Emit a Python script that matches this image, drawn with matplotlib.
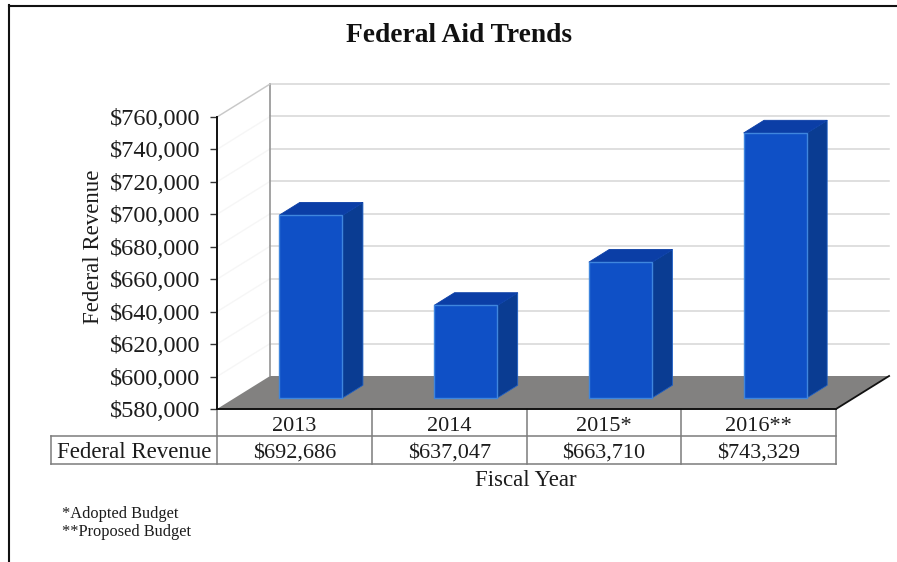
import matplotlib
matplotlib.use("Agg")
import matplotlib.pyplot as plt
from matplotlib.lines import Line2D
from matplotlib.patches import Polygon
from matplotlib.ticker import FuncFormatter

plt.rcParams['font.family'] = ['Liberation Serif', 'DejaVu Serif']

years = ["2013", "2014", "2015*", "2016**"]
revenue = [692686, 637047, 663710, 743329]
y_ticks = list(range(580000, 760001, 20000))
footnotes = ["*Adopted Budget", "**Proposed Budget"]

W, H = 897, 562
TXT = "#1c1c1c"
LINE = "#7c7c7c"

fig = plt.figure(figsize=(W / 100, H / 100), dpi=100, facecolor="white")
ax = fig.add_axes([217 / W, 1 - 409 / H, 619 / W, 292 / H])
ax.set_xlim(-0.5, 3.5)
ax.set_ylim(580000, 760000)
ax.patch.set_visible(False)


def px(x, y):
    """Figure coordinates from a top-left pixel position."""
    return x / W, 1 - y / H


def project(x, v, depth):
    """Oblique projection: push a data point back along the chart's depth axis."""
    return x + depth * 0.343, v + depth * 20340


def face(points, **kw):
    ax.add_patch(Polygon([project(*p) for p in points], closed=True, clip_on=False, **kw))


# Floor and walls
x0, x1 = -0.5, 3.5
vmin, vmax = y_ticks[0], y_ticks[-1]
face([(x0, vmin, 0), (x0, vmin, 1), (x1, vmin, 1), (x1, vmin, 0)],
     facecolor="#828180", edgecolor="none", zorder=1)

for v in y_ticks:
    if v > vmin:
        ax.plot(*zip(project(x0, v, 1), project(x1, v, 1)), color="#d6d6d6", lw=1.1,
                clip_on=False, zorder=1)
        ax.plot(*zip(project(x0, v, 0), project(x0, v, 1)), color="#f6f6f6", lw=1.0,
                clip_on=False, zorder=1)

ax.plot(*zip(project(x0, vmin, 1), project(x0, vmax, 1)), color="#8a8a8a", lw=1.1,
        clip_on=False, zorder=1.5)
ax.plot(*zip(project(x0, vmax, 0), project(x0, vmax, 1)), color="#c8c8c8", lw=1.0,
        clip_on=False, zorder=1.5)
ax.plot(*zip(project(x1, vmin, 0), project(x1, vmin, 1)), color="#111111", lw=1.3,
        clip_on=False, zorder=1.5)

# Bars: front face, roof and right side
half = 0.204
shift = -0.008
d0, d1 = 0.335, 0.72
for i, val in enumerate(revenue):
    l, r = i - half + shift, i + half + shift
    face([(r, vmin, d0), (r, vmin, d1), (r, val, d1), (r, val, d0)],
         facecolor="#0a3c92", edgecolor="#1d5fc4", lw=0.6, zorder=3)
    face([(l, val, d0), (l, val, d1), (r, val, d1), (r, val, d0)],
         facecolor="#0b3ea6", edgecolor="#0b3ea6", lw=0.6, zorder=3)
    face([(l, vmin, d0), (r, vmin, d0), (r, val, d0), (l, val, d0)],
         facecolor="#0f50c6", edgecolor="#3f86de", lw=1.0, zorder=4)

# Value axis
for s in ("top", "right"):
    ax.spines[s].set_visible(False)
for s in ("left", "bottom"):
    ax.spines[s].set_color("#111111")
    ax.spines[s].set_linewidth(1.4)
    ax.spines[s].set_zorder(5)
ax.set_xticks([])
ax.set_yticks(y_ticks)
ax.yaxis.set_major_formatter(FuncFormatter(lambda v, _: f"${v:,.0f}"))
ax.tick_params(axis="y", length=5, width=1, color="#333333", pad=7,
               labelsize=17.5, labelcolor=TXT)

# Data table under the plot
row1, row2, row3 = -27 / 292, -55 / 292, 0.0
label_left = (51 - 217) / 619
table_lines = [
    ([0, 0], [row2, row3]),
    ([label_left, 1], [row1, row1]),
    ([label_left, 1], [row2, row2]),
    ([label_left, label_left], [row1, row2]),
]
for k in range(1, 5):
    table_lines.append(([k / 4, k / 4], [row2, row3]))
for xs, ys in table_lines:
    ax.add_line(Line2D(xs, ys, transform=ax.transAxes, color=LINE, lw=1.1, clip_on=False))

for i, (yr, val) in enumerate(zip(years, revenue)):
    ax.text((i + 0.5) / 4, (row1 + row3) / 2 - 0.012, yr, transform=ax.transAxes,
            ha="center", va="center", fontsize=16, color=TXT)
    ax.text((i + 0.5) / 4, (row1 + row2) / 2 - 0.01, f"${val:,}", transform=ax.transAxes,
            ha="center", va="center", fontsize=16, color=TXT)
ax.text((label_left + 0) / 2, (row1 + row2) / 2 - 0.01, "Federal Revenue",
        transform=ax.transAxes, ha="center", va="center", fontsize=16.5, color=TXT)

# Titles and notes
fig.text(*px(459, 35), "Federal Aid Trends", ha="center", va="center",
         fontsize=19.8, fontweight="bold", color="#111111")
fig.text(*px(93, 247), "Federal Revenue", rotation=90, ha="center", va="center",
         fontsize=16.5, color=TXT)
fig.text(*px(526, 480), "Fiscal Year", ha="center", va="center", fontsize=16.5, color=TXT)
for j, note in enumerate(footnotes):
    fig.text(*px(62, 514 + 18 * j), note, ha="left", va="center", fontsize=11.8, color=TXT)

# Page frame along the top and left edges
fig.add_artist(Line2D([px(8.5, 0)[0], px(8.5, 0)[0]], [px(0, 5)[1], 0],
                      transform=fig.transFigure, color="#111111", lw=1.5))
fig.add_artist(Line2D([px(8.5, 0)[0], 1], [px(0, 5.5)[1], px(0, 5.5)[1]],
                      transform=fig.transFigure, color="#111111", lw=1.5))

fig.savefig("out.png", dpi=100)
